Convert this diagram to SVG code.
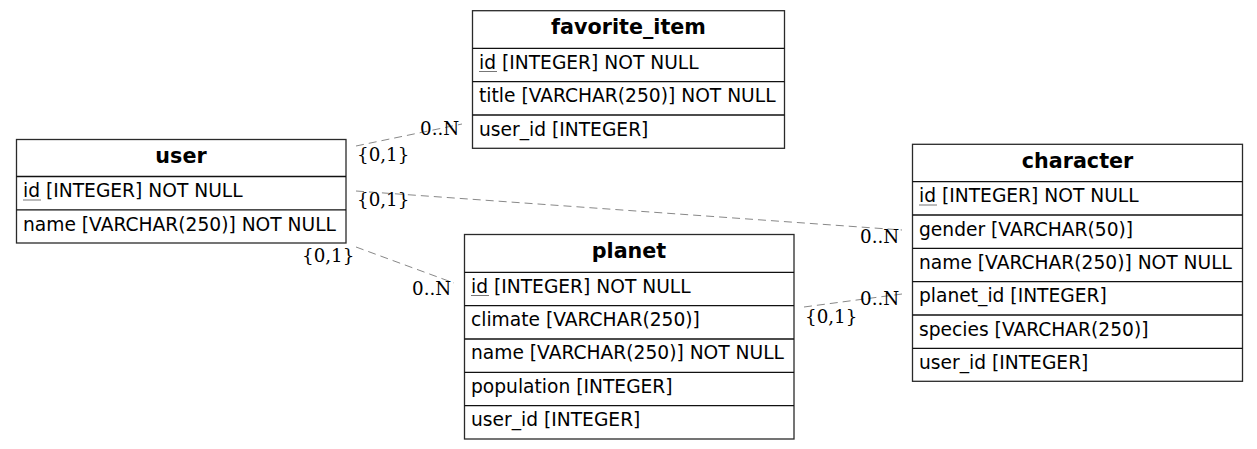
<svg xmlns="http://www.w3.org/2000/svg" width="1257" height="449" viewBox="0 0 1257 449">
<style>
.box{fill:#fff;stroke:#2a2a2a;stroke-width:1.3}
.sep{stroke:#111;stroke-width:1.3}
.hd{font-family:"DejaVu Sans",sans-serif;font-weight:bold;font-size:20.7px;text-anchor:middle;fill:#000}
.tx{font-family:"DejaVu Sans",sans-serif;font-size:18.67px;fill:#000}
.ul{stroke:#777;stroke-width:1}
.edge{stroke:#888;stroke-width:1;stroke-dasharray:8,5;fill:none}
.lb{font-family:"DejaVu Serif",serif;font-size:18.3px;fill:#000}
</style>
<rect width="1257" height="449" fill="#fff"/>
<g id="connectors">
<line class="edge" x1="356" y1="146" x2="462" y2="124"/>
<line class="edge" x1="356" y1="191" x2="902" y2="230"/>
<line class="edge" x1="356" y1="247" x2="454" y2="283"/>
<line class="edge" x1="804" y1="307" x2="902" y2="294"/>
<text class="lb" x="420" y="135">0..N</text>
<text class="lb" x="357" y="161">{0,1}</text>
<text class="lb" x="357" y="206">{0,1}</text>
<text class="lb" x="860" y="243">0..N</text>
<text class="lb" x="302" y="262">{0,1}</text>
<text class="lb" x="412" y="295">0..N</text>
<text class="lb" x="805" y="323">{0,1}</text>
<text class="lb" x="860" y="305">0..N</text>
</g>
<g id="user">
<rect class="box" x="16.5" y="139.5" width="329.5" height="103.5"/>
<line class="sep" x1="16.5" y1="176.5" x2="346" y2="176.5"/>
<line class="sep" x1="16.5" y1="209.8" x2="346" y2="209.8"/>
<text class="hd" x="181" y="162.5">user</text>
<text class="tx" x="23" y="197">id [INTEGER] NOT NULL</text>
<line class="ul" x1="23" y1="200" x2="41" y2="200"/>
<text class="tx" x="23" y="230.5">name [VARCHAR(250)] NOT NULL</text>
</g>
<g id="favorite_item">
<rect class="box" x="472.5" y="10.7" width="312" height="137.6"/>
<line class="sep" x1="472.5" y1="48.3" x2="784.5" y2="48.3"/>
<line class="sep" x1="472.5" y1="81.7" x2="784.5" y2="81.7"/>
<line class="sep" x1="472.5" y1="115" x2="784.5" y2="115"/>
<text class="hd" x="628.5" y="34">favorite_item</text>
<text class="tx" x="479" y="68.5">id [INTEGER] NOT NULL</text>
<line class="ul" x1="479" y1="71.5" x2="497" y2="71.5"/>
<text class="tx" x="479" y="102">title [VARCHAR(250)] NOT NULL</text>
<text class="tx" x="479" y="135.5">user_id [INTEGER]</text>
</g>
<g id="character">
<rect class="box" x="912.5" y="144.3" width="330" height="237"/>
<line class="sep" x1="912.5" y1="181.7" x2="1242.5" y2="181.7"/>
<line class="sep" x1="912.5" y1="215" x2="1242.5" y2="215"/>
<line class="sep" x1="912.5" y1="248.3" x2="1242.5" y2="248.3"/>
<line class="sep" x1="912.5" y1="281.7" x2="1242.5" y2="281.7"/>
<line class="sep" x1="912.5" y1="315" x2="1242.5" y2="315"/>
<line class="sep" x1="912.5" y1="348.3" x2="1242.5" y2="348.3"/>
<text class="hd" x="1077.5" y="167.5">character</text>
<text class="tx" x="919" y="202">id [INTEGER] NOT NULL</text>
<line class="ul" x1="919" y1="205" x2="937" y2="205"/>
<text class="tx" x="919" y="235.5">gender [VARCHAR(50)]</text>
<text class="tx" x="919" y="268.8">name [VARCHAR(250)] NOT NULL</text>
<text class="tx" x="919" y="302">planet_id [INTEGER]</text>
<text class="tx" x="919" y="335.5">species [VARCHAR(250)]</text>
<text class="tx" x="919" y="368.8">user_id [INTEGER]</text>
</g>
<g id="planet">
<rect class="box" x="464.5" y="234.5" width="329.5" height="204.5"/>
<line class="sep" x1="464.5" y1="272.3" x2="794" y2="272.3"/>
<line class="sep" x1="464.5" y1="305.7" x2="794" y2="305.7"/>
<line class="sep" x1="464.5" y1="339" x2="794" y2="339"/>
<line class="sep" x1="464.5" y1="372.3" x2="794" y2="372.3"/>
<line class="sep" x1="464.5" y1="405.7" x2="794" y2="405.7"/>
<text class="hd" x="629" y="258">planet</text>
<text class="tx" x="471" y="292.5">id [INTEGER] NOT NULL</text>
<line class="ul" x1="471" y1="295.5" x2="489" y2="295.5"/>
<text class="tx" x="471" y="326">climate [VARCHAR(250)]</text>
<text class="tx" x="471" y="359.3">name [VARCHAR(250)] NOT NULL</text>
<text class="tx" x="471" y="392.6">population [INTEGER]</text>
<text class="tx" x="471" y="426">user_id [INTEGER]</text>
</g>
</svg>
